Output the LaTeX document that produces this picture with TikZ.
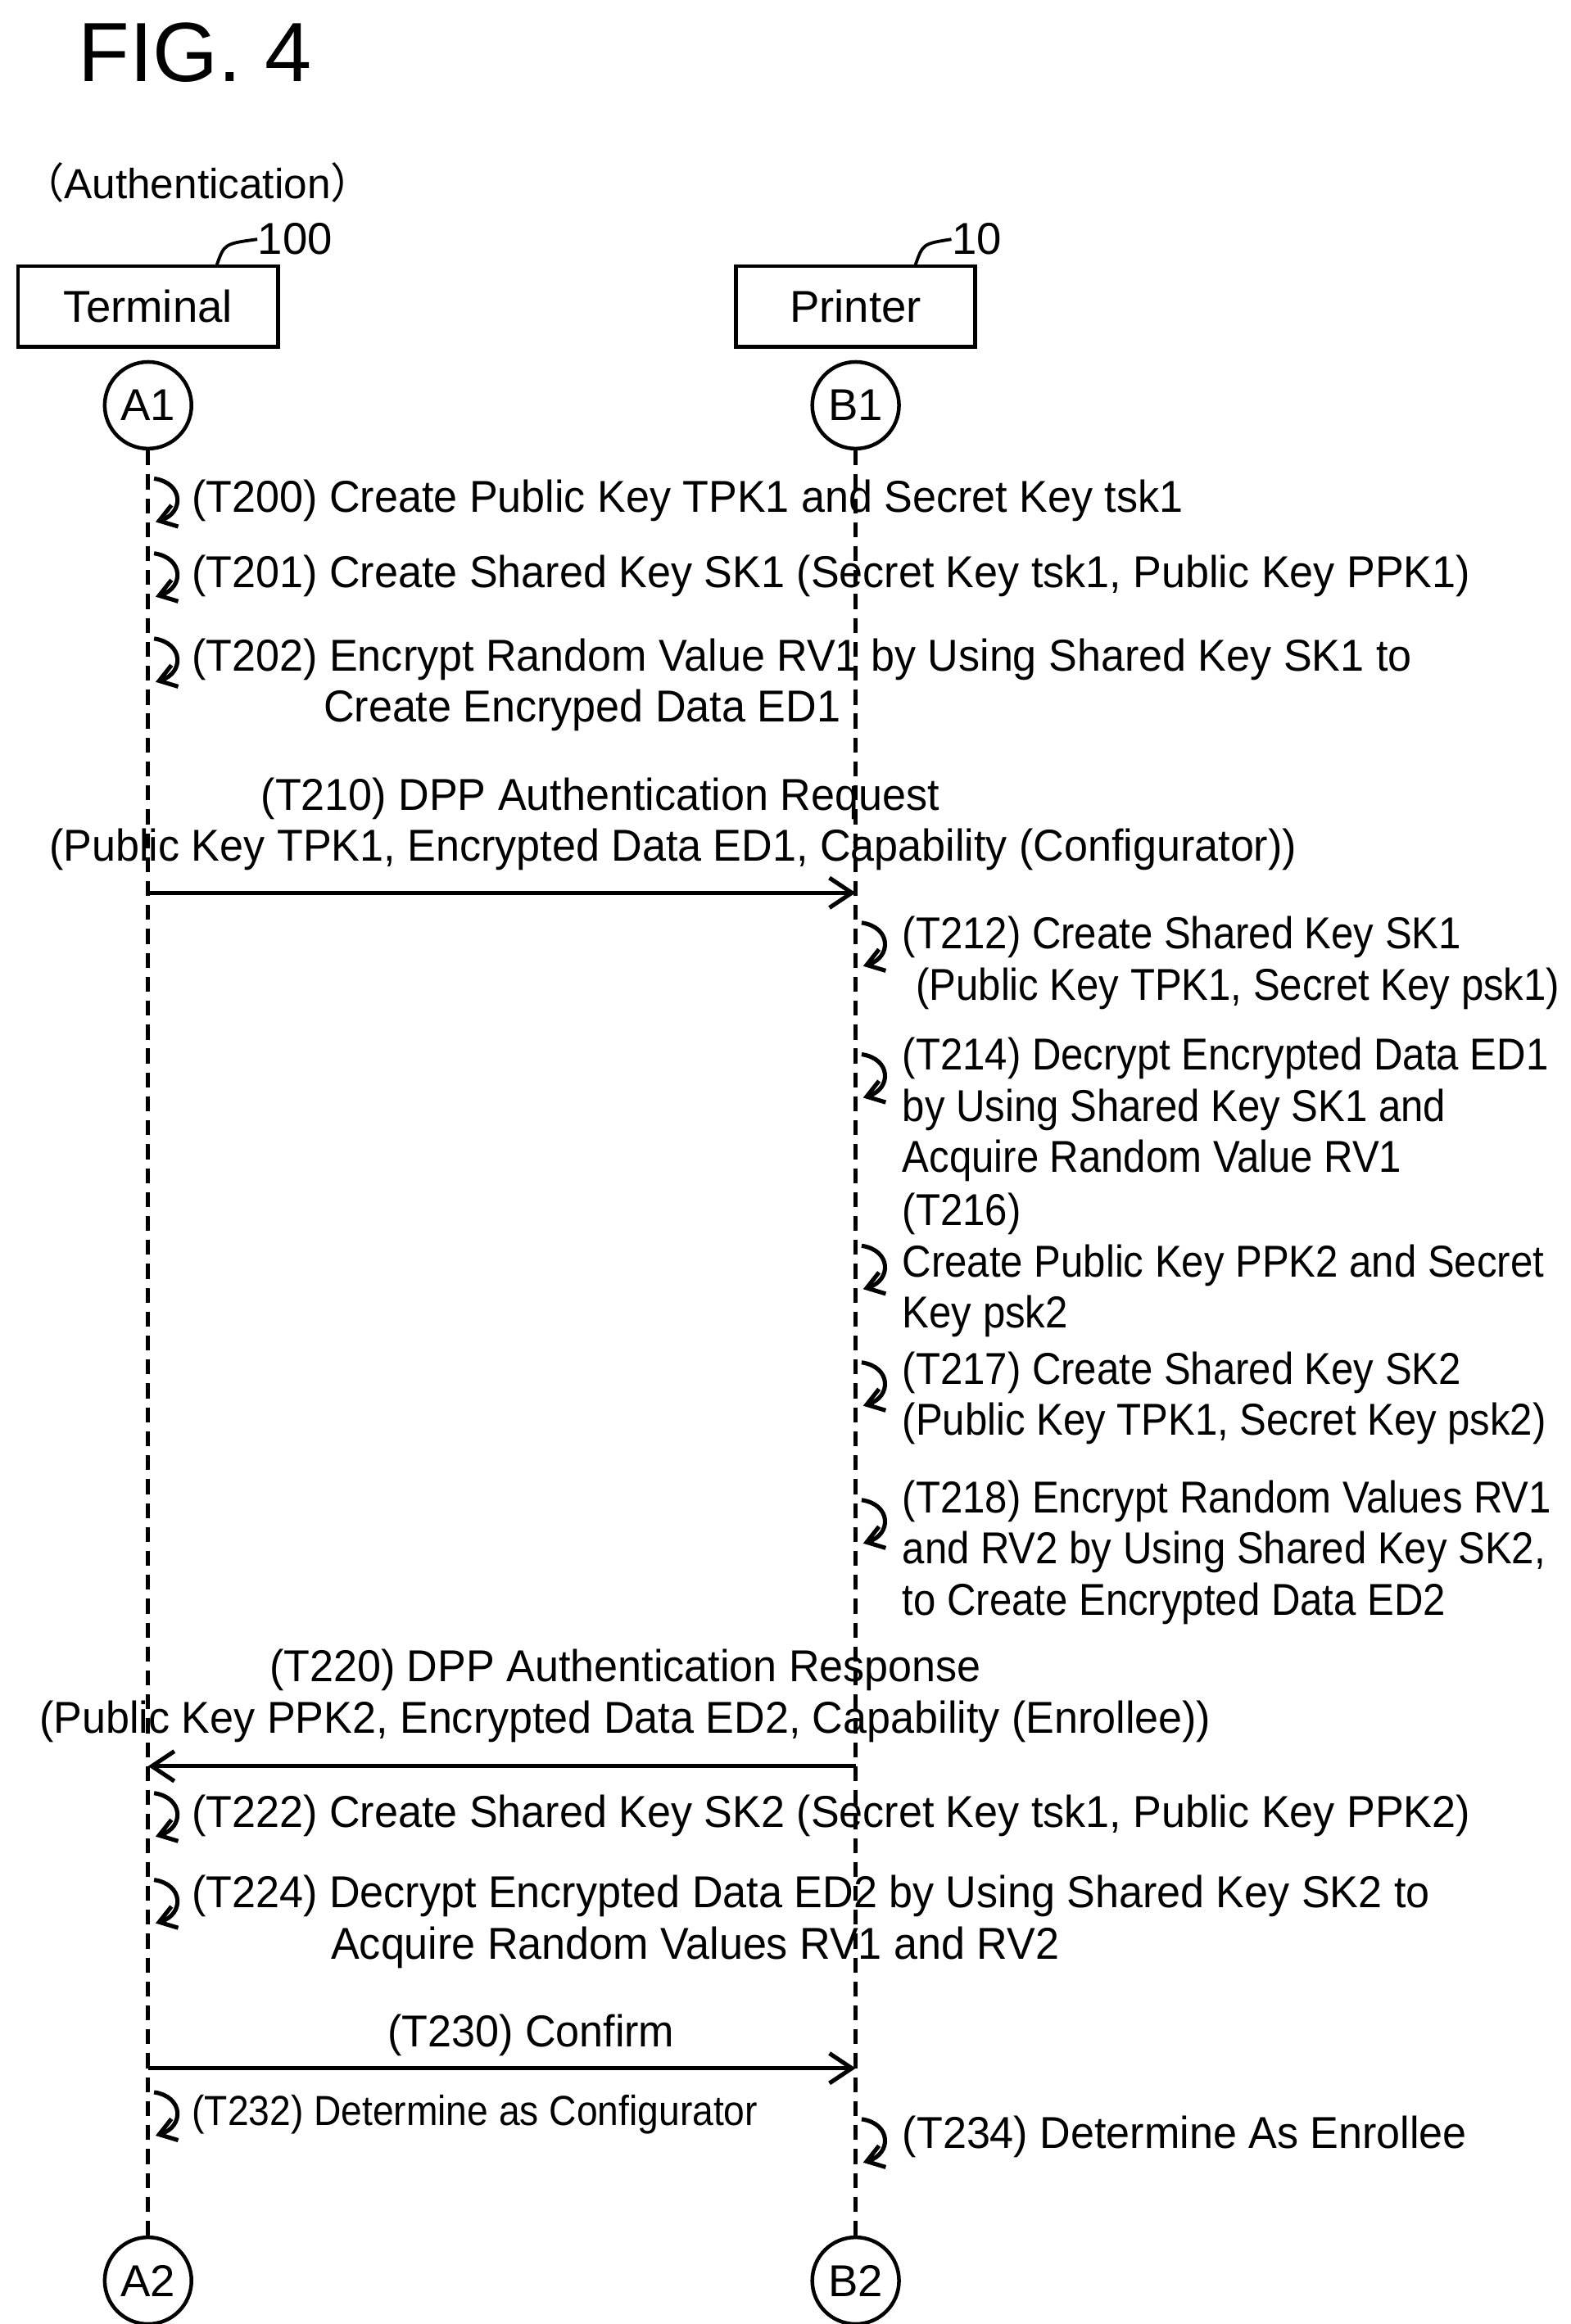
\documentclass[tikz,border=0pt]{standalone}
\usepackage{fontspec}
\setmainfont{Liberation Sans}
\newfontfamily\stepfont[FakeStretch=0.955]{Liberation Sans}
\newfontfamily\narrowfont[FakeStretch=0.90]{Liberation Sans}
\newfontfamily\cjkfont{Noto Sans CJK JP}
\usetikzlibrary{arrows.meta,positioning}
\newcommand{\selfloop}[1]{%
  \draw[line width=1.6pt,-{Straight Barb[length=2.2mm,width=3mm]}]
    ([shift={(4,-15)}]#1) .. controls ([shift={(24,-12)}]#1) and ([shift={(24,8)}]#1) .. ([shift={(5,14)}]#1);}
\begin{document}
\begin{tikzpicture}[x=0.02cm,y=-0.02cm,
    txt/.style={font=\stepfont\fontsize{17}{19.5}\selectfont, inner sep=0pt, align=left, anchor=west},
    ptxt/.style={font=\narrowfont\fontsize{17}{19.5}\selectfont, inner sep=0pt, align=left, anchor=west},
    msg/.style={font=\stepfont\fontsize{17}{19.5}\selectfont, inner sep=0pt, align=center},
    entity/.style={draw, line width=1.4pt, minimum width=#1, minimum height=1.08cm, font=\fontsize{17}{19}\selectfont},
    port/.style={draw, circle, line width=1.4pt, minimum size=1.16cm, inner sep=0pt, font=\fontsize{17}{19}\selectfont},
    lifeline/.style={line width=1.6pt, dash pattern=on 0.2cm off 0.12cm},
    arrow/.style={line width=1.6pt, -{Straight Barb[length=3mm,width=4mm]}}
]
\useasboundingbox (0,0) rectangle (1050,1554);
\node[font=\fontsize{32}{34}\selectfont, anchor=west, inner sep=0pt] (fig) at (52,35) {FIG. 4};
\node[font=\fontsize{16}{18}\selectfont, inner sep=0pt] (mode) at (132,122) {{\cjkfont （}Authentication{\cjkfont ）}};
% entities
\node[entity=3.48cm] (term) at (99,205) {Terminal};
\node[entity=3.2cm] (prn) at (572,205) {Printer};
\node[font=\fontsize{17}{19}\selectfont, anchor=west, inner sep=0pt] (ref100) at (172,160) {100};
\node[font=\fontsize{17}{19}\selectfont, anchor=west, inner sep=0pt] (ref10) at (636,160) {10};
\draw[line width=1.2pt] (145,177) .. controls (150,163) .. (ref100.west);
\draw[line width=1.2pt] (612,177) .. controls (617,163) .. (ref10.west);
\node[port] (a1) at (99,271) {A1};
\node[port] (b1) at (572,271) {B1};
\node[port] (a2) at (99,1525) {A2};
\node[port] (b2) at (572,1525) {B2};
\draw[lifeline] (a1) -- (a2);
\draw[lifeline] (b1) -- (b2);
% terminal steps
\coordinate (s200) at (99,335); \selfloop{s200}
\node[txt] (t200) at (128,335) {(T200) Create Public Key TPK1 and Secret Key tsk1};
\coordinate (s201) at (99,385); \selfloop{s201}
\node[txt] (t201) at (128,385) {(T201) Create Shared Key SK1 (Secret Key tsk1, Public Key PPK1)};
\coordinate (s202) at (99,442); \selfloop{s202}
\node[txt] (t202) at (128,458) {(T202) Encrypt Random Value RV1 by Using Shared Key SK1 to\\
  \hspace*{1.76cm}Create Encryped Data ED1};
% request
\coordinate (req1) at (99,597); \coordinate (req2) at (572,597);
\draw[arrow] (req1) -- (req2);
\node[msg] (t210) at (450,551) {\hspace*{-1.95cm}(T210) DPP Authentication Request\\
  (Public Key TPK1, Encrypted Data ED1, Capability (Configurator))};
% printer steps
\coordinate (s212) at (572,632); \selfloop{s212}
\node[ptxt] (t212) at (603,644) {(T212) Create Shared Key SK1\\ \hspace*{0.18cm}(Public Key TPK1, Secret Key psk1)};
\coordinate (s214) at (572,720); \selfloop{s214}
\node[ptxt] (t214) at (603,742) {(T214) Decrypt Encrypted Data ED1\\by Using Shared Key SK1 and\\Acquire Random Value RV1};
\coordinate (s216) at (572,848); \selfloop{s216}
\node[ptxt] (t216) at (603,846) {(T216)\\Create Public Key PPK2 and Secret\\Key psk2};
\coordinate (s217) at (572,926); \selfloop{s217}
\node[ptxt] (t217) at (603,935) {(T217) Create Shared Key SK2\\(Public Key TPK1, Secret Key psk2)};
\coordinate (s218) at (572,1018); \selfloop{s218}
\node[ptxt] (t218) at (603,1038) {(T218) Encrypt Random Values RV1\\and RV2 by Using Shared Key SK2,\\to Create Encrypted Data ED2};
% response
\coordinate (res1) at (572,1181); \coordinate (res2) at (99,1181);
\draw[arrow] (res1) -- (res2);
\node[msg] (t220) at (418,1134) {(T220) DPP Authentication Response\\
  (Public Key PPK2, Encrypted Data ED2, Capability (Enrollee))};
\coordinate (s222) at (99,1214); \selfloop{s222}
\node[txt] (t222) at (128,1214) {(T222) Create Shared Key SK2 (Secret Key tsk1, Public Key PPK2)};
\coordinate (s224) at (99,1272); \selfloop{s224}
\node[txt] (t224) at (128,1285) {(T224) Decrypt Encrypted Data ED2 by Using Shared Key SK2 to\\
  \hspace*{1.86cm}Acquire Random Values RV1 and RV2};
% confirm
\coordinate (cf1) at (99,1383); \coordinate (cf2) at (572,1383);
\draw[arrow] (cf1) -- (cf2);
\node[msg] (t230) at (355,1361) {(T230) Confirm};
\coordinate (s232) at (99,1414); \selfloop{s232}
\node[txt, font=\narrowfont\fontsize{16}{18}\selectfont] (t232) at (128,1414) {(T232) Determine as Configurator};
\coordinate (s234) at (572,1432); \selfloop{s234}
\node[txt] (t234) at (603,1429) {(T234) Determine As Enrollee};
\end{tikzpicture}
\end{document}
